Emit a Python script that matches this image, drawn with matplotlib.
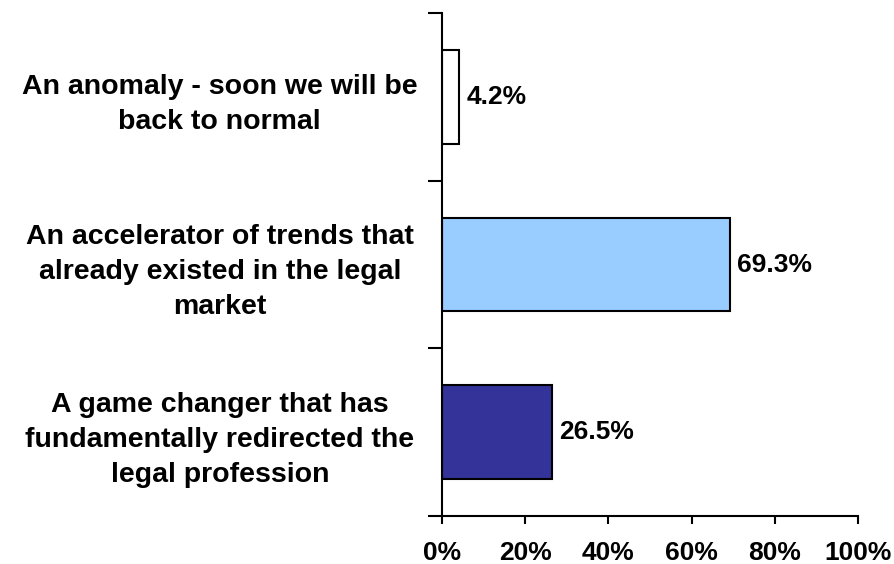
import matplotlib
matplotlib.use("Agg")
import matplotlib.pyplot as plt

# survey answers, bottom to top as drawn
categories = [
    "A game changer that has\nfundamentally redirected the\nlegal profession",
    "An accelerator of trends that\nalready existed in the legal\nmarket",
    "An anomaly - soon we will be\nback to normal",
]
values = [26.5, 69.3, 4.2]
colors = ["#333399", "#99CCFF", "#FFFFFF"]
xticks = [0, 20, 40, 60, 80, 100]

plt.rcParams['font.family'] = ['Liberation Sans', 'DejaVu Sans']
plt.rcParams['font.weight'] = 'bold'

fig = plt.figure(figsize=(8.95, 5.64), dpi=100)
ax = fig.add_axes([442 / 895, 1 - 516 / 564, 416 / 895, 503 / 564])

pos = list(range(len(values)))
ax.barh(pos, values, height=0.56, color=colors, edgecolor="black", linewidth=1.5)

for p, v in zip(pos, values):
    ax.text(v + 1.6, p, f"{v:.1f}%", va="center", ha="left", fontsize=19, fontweight="bold")

ax.set_xlim(0, 100)
ax.set_ylim(-0.5, 2.5)
ax.set_xticks(xticks)
ax.set_xticklabels([f"{t}%" for t in xticks], fontsize=19, fontweight="bold")

# category boundaries get the tick marks, labels sit in between
ax.set_yticks([-0.5, 0.5, 1.5, 2.5])
ax.set_yticklabels([])
ax.set_yticks(pos, minor=True)
ax.set_yticklabels(categories, minor=True, fontsize=20.5, fontweight="bold",
                   ha="center", linespacing=1.45)
ax.tick_params(axis="y", which="minor", length=0, pad=160)
ax.tick_params(axis="y", which="major", length=10, width=1.5, direction="out")
ax.tick_params(axis="x", length=6, width=1.5, direction="out", pad=12)

for s in ["top", "right"]:
    ax.spines[s].set_visible(False)
for s in ["left", "bottom"]:
    ax.spines[s].set_linewidth(1.5)

fig.savefig("out.png", dpi=100)
